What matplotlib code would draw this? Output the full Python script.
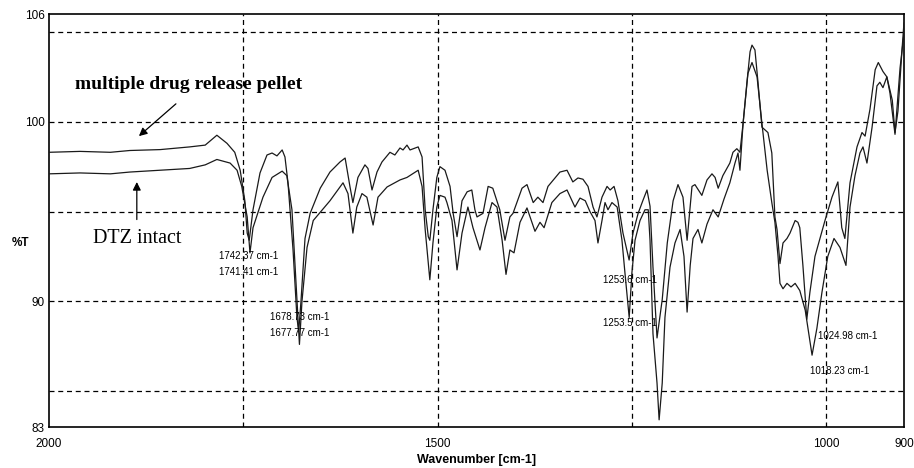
import matplotlib
matplotlib.use("Agg")
import matplotlib.pyplot as plt

# FTIR spectra (wavenumber in cm-1, %T)
pellet_wn = [2000, 1960, 1921, 1896, 1857, 1819, 1799, 1784, 1771, 1761, 1754, 1748, 1745,
             1742.37, 1737.5, 1728.5, 1719.5, 1713, 1706.7, 1700, 1696.4, 1692.5, 1686, 1681,
             1678.73, 1675.8, 1670.6, 1664, 1651, 1638.5, 1625.6, 1619, 1612.7, 1609, 1602.5,
             1593.5, 1589.6, 1584.4, 1578, 1571.6, 1561.3, 1555, 1548.4, 1544.5, 1539.4, 1535.5,
             1525, 1520, 1516, 1512, 1510, 1506, 1501, 1497, 1490.5, 1484, 1480, 1475, 1468.6,
             1462, 1456, 1452, 1449.3, 1441.6, 1435, 1429, 1420, 1413.3, 1407, 1403, 1391.4,
             1385, 1377, 1371, 1364.4, 1358, 1349, 1342.6, 1333.5, 1326, 1319.4, 1313, 1306.5,
             1300, 1295, 1288.5, 1282, 1278, 1273, 1268, 1261.5, 1253.6, 1248.6, 1242, 1236,
             1230.6, 1226.7, 1222.9, 1217.7, 1211, 1204.5, 1197, 1190.7, 1184.3, 1179, 1172.7,
             1168.9, 1160, 1153.4, 1147, 1143, 1139, 1133, 1124, 1120, 1115, 1111, 1107, 1102,
             1098, 1095.5, 1091.7, 1088, 1082.7, 1075, 1070, 1066, 1063.3, 1059.5, 1055.6,
             1050.5, 1046.6, 1040, 1036.4, 1034, 1030, 1024.98, 1021, 1014.5, 1008, 1001.6,
             992.6, 985, 980, 976, 969.4, 960.4, 954, 950, 943.7, 937, 933, 927, 922, 915,
             911.5, 907.7, 902.5, 900]
pellet_t = [98.3, 98.35, 98.3, 98.4, 98.45, 98.6, 98.7, 99.25, 98.8, 98.3, 97.3, 95.6, 93.8,
            93.4, 95.1, 97.15, 98.15, 98.26, 98.1, 98.43, 98.04, 96.6, 92.86, 89.1,
            88.3, 90.0, 93.5, 94.9, 96.3, 97.2, 97.76, 97.98, 96.37, 95.5, 96.9,
            97.6, 97.4, 96.2, 97.2, 97.76, 98.3, 98.15, 98.54, 98.43, 98.7, 98.43,
            98.6, 98.04, 95.1, 93.6, 93.4, 95.1, 96.9, 97.5, 97.3, 96.4, 94.9, 93.6, 95.6,
            96.1, 96.2, 95.1, 94.7, 94.9, 96.4, 96.3, 95.1, 93.4, 94.7, 94.9, 96.3,
            96.5, 95.5, 95.8, 95.5, 96.4, 96.87, 97.2, 97.3, 96.65, 96.87, 96.8, 96.4,
            95.25, 94.7, 95.8, 96.4, 96.2, 96.4, 95.6, 93.8, 92.3, 93.8, 94.9, 95.6,
            96.2, 95.3, 91.9, 87.96, 90.1, 93.25, 95.6, 96.5, 95.8, 93.4, 96.4,
            96.5, 95.9, 96.76, 97.1, 96.9, 96.3, 97.0, 97.7, 98.3, 98.5, 98.3, 99.9, 102.2,
            103.9, 104.27, 104.0, 102.3, 99.7, 99.4, 98.26, 94.7, 94.0, 92.1, 93.25,
            93.5, 93.8, 94.5, 94.4, 94.1, 92.0, 89.0, 90.5, 92.5, 93.5, 94.5,
            95.8, 96.65, 94.1, 93.5, 96.6, 98.6, 99.4, 99.2, 100.7, 102.9, 103.3, 102.8, 102.5, 101.2,
            99.4, 100.6, 104.0, 105.5]

dtz_wn = [2000, 1960, 1921, 1896, 1857, 1819, 1799, 1784, 1767, 1758, 1752, 1745, 1741.41,
          1737.5, 1724.7, 1713, 1700, 1694, 1687.4, 1681, 1677.77, 1674.5, 1668, 1660, 1638.5,
          1621.7, 1615.3, 1609, 1604, 1597.3, 1591, 1583, 1576.7, 1565, 1548.4, 1539.4, 1525,
          1520, 1516, 1510, 1506, 1501, 1497, 1490.5, 1488, 1481.5, 1475, 1468.6, 1461, 1454.5,
          1445.5, 1439, 1430, 1423.6, 1417, 1412, 1407, 1401.7, 1394, 1385, 1374.7, 1368.3,
          1363, 1353, 1342.6, 1333.5, 1323.3, 1316.8, 1310, 1304, 1297.5, 1293.7, 1288.5,
          1284.6, 1280.8, 1275.7, 1269, 1262.8, 1259, 1253.5, 1250, 1246, 1239.6, 1233.2, 1229,
          1226.7, 1222.9, 1217.7, 1215, 1211, 1207.5, 1201, 1194.6, 1188, 1183, 1179, 1175,
          1171.4, 1165, 1160, 1153.4, 1145.7, 1139, 1131.5, 1124, 1117.4, 1113.5, 1111, 1107,
          1100.7, 1095.5, 1089, 1082.7, 1076, 1070, 1066, 1062, 1059.5, 1055.6, 1050.5, 1045.3,
          1040, 1034, 1027, 1018.23, 1012, 1005.5, 998, 990, 982.3, 974.6, 969.4, 963, 956.6,
          952.7, 947.6, 941, 934.7, 931, 927, 922, 918, 911.5, 905, 900]
dtz_t = [97.1, 97.15, 97.1, 97.2, 97.3, 97.4, 97.6, 97.9, 97.7, 97.3, 96.4, 94.7, 92.7,
         94.1, 95.8, 96.9, 97.25, 97.0, 95.1, 90.1, 87.6, 90.0, 93.0, 94.5, 95.6,
         96.6, 96.0, 93.8, 95.25, 96.0, 95.8, 94.25, 95.8, 96.37, 96.76, 96.9, 97.3,
         96.4, 94.0, 91.2, 93.25, 95.25, 95.9, 95.8, 95.5, 94.5, 91.75, 93.8, 95.25, 94.1,
         92.86, 94.1, 95.5, 95.25, 93.4, 91.5, 92.86, 92.7, 94.4, 95.2, 93.9, 94.4,
         94.1, 95.5, 96.0, 96.2, 95.25, 95.75, 95.6, 95.0, 94.5, 93.25, 94.5,
         95.5, 95.1, 95.5, 95.25, 93.4, 91.6, 89.1, 91.6, 93.4, 94.5, 95.1, 95.1,
         93.4, 88.2, 85.45, 83.4, 85.45, 89.1, 91.9, 93.25, 94.0, 92.5, 89.4, 92.0,
         93.5, 94.0, 93.25, 94.3, 95.1, 94.7, 95.7, 96.6, 97.7, 98.26, 97.3, 99.9,
         102.7, 103.3, 102.5, 99.9, 97.3, 95.5, 94.4, 92.5, 91.0, 90.7, 91.0, 90.8,
         91.0, 90.6, 89.5, 87.0, 88.5, 90.5, 92.5, 93.5, 93.0, 92.0, 95.25, 97.0, 98.26,
         98.6, 97.7, 99.7, 102.0, 102.2, 101.9, 102.5, 101.6, 99.3, 103.0, 104.9]

# peak picks: label text and where it sits (wavenumber, %T)
peak_labels = ["1742.37 cm-1", "1741.41 cm-1", "1678.73 cm-1", "1677.77 cm-1",
               "1253.6 cm-1", "1253.5 cm-1", "1024.98 cm-1", "1018.23 cm-1"]
peak_label_wn = [1781, 1781, 1715.7, 1715.7, 1287, 1287, 1010.6, 1021]
peak_label_t = [92.53, 91.64, 89.13, 88.24, 91.19, 88.8, 88.07, 86.12]

xtick_vals = [2000, 1500, 1000, 900]
ytick_vals = [106, 100, 90, 83]
grid_x = [1750, 1500, 1250, 1000]
grid_y = [105, 100, 95, 90, 85]

sans = ["Liberation Sans Narrow", "Liberation Sans", "DejaVu Sans"]
serif = ["Liberation Serif", "DejaVu Serif"]

fig = plt.figure(figsize=(9.14, 4.68), dpi=100)
ax = fig.add_axes([0.0536, 0.0876, 0.9354, 0.8824])

for gx in grid_x:
    ax.axvline(gx, color="black", lw=0.9, ls=(0, (4, 3)), zorder=1)
for gy in grid_y:
    ax.axhline(gy, color="black", lw=0.9, ls=(0, (4, 3)), zorder=1)

ax.plot(pellet_wn, pellet_t, color="#1a1a1a", lw=0.9, zorder=3)
ax.plot(dtz_wn, dtz_t, color="#1a1a1a", lw=0.9, zorder=3)

ax.set_xlim(2000, 900)
ax.set_ylim(83, 106)
ax.set_xticks(xtick_vals)
ax.set_xticklabels([str(v) for v in xtick_vals], family=sans, fontsize=8.5)
ax.set_yticks(ytick_vals)
ax.set_yticklabels([str(v) for v in ytick_vals], family=sans, fontsize=8.5)
ax.tick_params(axis="y", length=0, pad=3)
ax.tick_params(axis="x", length=0, pad=8)
for sp in ax.spines.values():
    sp.set_linewidth(1.2)

ax.set_xlabel("Wavenumber [cm-1]", family=sans, fontsize=9, fontweight="bold", labelpad=3)
fig.text(20 / 914, 1 - 243 / 468, "%T", family=sans, fontsize=8.5, fontweight="bold",
         ha="center", va="center")

for lbl, wx, ty in zip(peak_labels, peak_label_wn, peak_label_t):
    ax.text(wx, ty, lbl, family=sans, fontsize=7, ha="left", va="center", zorder=4)

ax.text(1966.5, 102.1, "multiple drug release pellet", family=serif, fontsize=14,
        fontweight="bold", ha="left", va="center")
ax.annotate("", xy=(1887, 99.1), xytext=(1834, 101.1),
            arrowprops=dict(arrowstyle="-|>", color="black", lw=0.9, mutation_scale=12))
ax.text(1943, 93.5, "DTZ intact", family=serif, fontsize=14.5, ha="left", va="center")
ax.annotate("", xy=(1887, 96.8), xytext=(1887, 94.4),
            arrowprops=dict(arrowstyle="-|>", color="black", lw=0.9, mutation_scale=12))

fig.savefig("out.png", dpi=100)
